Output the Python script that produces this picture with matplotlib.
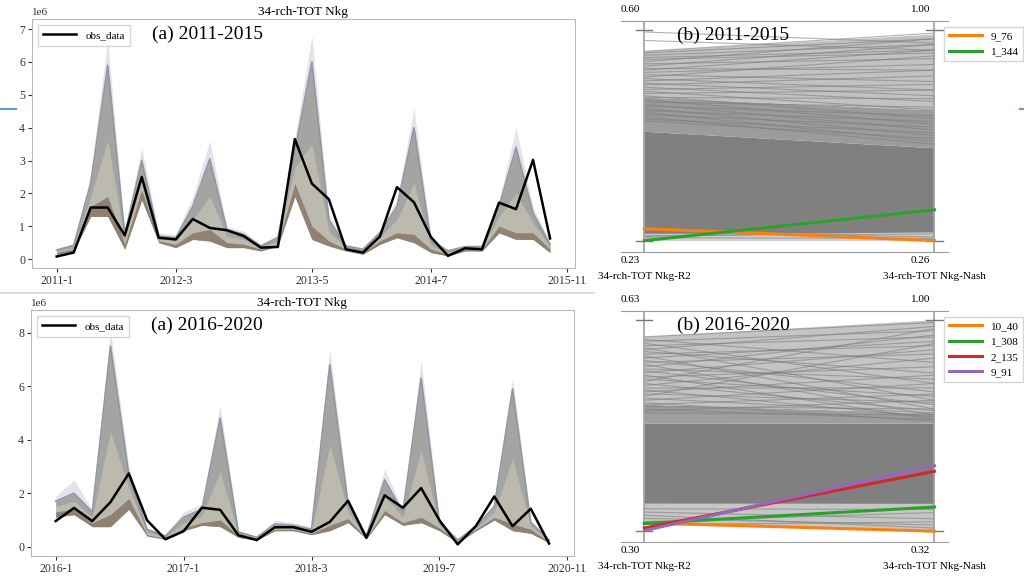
import numpy as np
import matplotlib.pyplot as plt
from matplotlib.lines import Line2D

plt.rcParams['font.family'] = ['Liberation Serif', 'DejaVu Serif']

SCALE = 1e6

# ---- 2011-2015: observed load and ensemble envelope (units of 1e6 kg) ----
obs_1 = [0.08, 0.20, 1.57, 1.57, 0.72, 2.50, 0.65, 0.60, 1.22, 0.95,
         0.88, 0.70, 0.35, 0.37, 3.65, 2.30, 1.82, 0.30, 0.20, 0.69,
         2.19, 1.73, 0.67, 0.10, 0.33, 0.30, 1.72, 1.52, 3.02, 0.63]
ens_min_1 = [0.15, 0.25, 1.30, 1.30, 0.30, 1.80, 0.50, 0.35, 0.60, 0.55,
             0.35, 0.35, 0.25, 0.40, 1.90, 0.60, 0.40, 0.25, 0.15, 0.45,
             0.65, 0.50, 0.20, 0.10, 0.25, 0.25, 0.80, 0.60, 0.60, 0.20]
ens_core_1 = [0.20, 0.30, 1.60, 1.90, 0.45, 2.10, 0.55, 0.45, 0.80, 0.90,
              0.50, 0.45, 0.30, 0.45, 2.30, 1.00, 0.55, 0.30, 0.20, 0.55,
              0.80, 0.75, 0.30, 0.15, 0.30, 0.30, 1.00, 0.80, 0.80, 0.30]
ens_mid_1 = [0.24, 0.36, 1.90, 3.60, 0.60, 2.50, 0.62, 0.55, 1.20, 1.90,
             0.70, 0.60, 0.35, 0.55, 2.80, 3.50, 0.85, 0.35, 0.25, 0.68,
             1.20, 2.30, 0.42, 0.20, 0.34, 0.34, 1.30, 2.00, 1.10, 0.38]
ens_max_1 = [0.28, 0.42, 2.30, 5.90, 0.75, 3.00, 0.70, 0.65, 1.60, 3.05,
             0.90, 0.75, 0.40, 0.65, 3.30, 6.00, 1.20, 0.40, 0.30, 0.80,
             1.60, 4.00, 0.55, 0.25, 0.38, 0.38, 1.60, 3.40, 1.40, 0.45]
ens_tip_1 = [0.30, 0.45, 2.60, 6.70, 0.85, 3.40, 0.80, 0.75, 1.90, 3.60,
             1.00, 0.85, 0.45, 0.75, 3.70, 6.80, 1.40, 0.45, 0.35, 0.90,
             1.80, 4.60, 0.65, 0.30, 0.42, 0.42, 1.80, 4.00, 1.60, 0.50]
tick_pos_1 = [0, 7, 15, 22, 30]
tick_lab_1 = ['2011-1', '2012-3', '2013-5', '2014-7', '2015-11']

# ---- 2016-2020 ----
obs_2 = [0.96, 1.45, 0.96, 1.67, 2.74, 0.99, 0.28, 0.58, 1.46, 1.38,
         0.43, 0.25, 0.73, 0.73, 0.56, 0.93, 1.72, 0.33, 1.92, 1.46,
         2.19, 0.99, 0.09, 0.78, 1.88, 0.77, 1.42, 0.12]
ens_min_2 = [1.10, 1.20, 0.75, 0.75, 1.40, 0.40, 0.28, 0.60, 0.80, 0.75,
             0.35, 0.25, 0.60, 0.60, 0.45, 0.60, 0.90, 0.30, 1.20, 0.80,
             0.90, 0.60, 0.15, 0.60, 1.00, 0.60, 0.50, 0.15]
ens_core_2 = [1.30, 1.40, 0.90, 1.20, 1.80, 0.45, 0.30, 0.70, 0.90, 1.00,
              0.40, 0.28, 0.65, 0.65, 0.50, 0.80, 1.05, 0.32, 1.35, 0.90,
              1.10, 0.70, 0.18, 0.65, 1.10, 0.85, 0.65, 0.18]
ens_mid_2 = [1.50, 1.70, 1.10, 4.30, 2.20, 0.55, 0.35, 0.90, 1.15, 2.80,
             0.48, 0.32, 0.75, 0.72, 0.58, 3.80, 1.30, 0.36, 1.90, 1.10,
             3.60, 0.80, 0.22, 0.70, 1.30, 3.30, 0.78, 0.22]
ens_max_2 = [1.70, 2.00, 1.30, 7.50, 2.70, 0.65, 0.40, 1.10, 1.40, 4.80,
             0.55, 0.35, 0.85, 0.80, 0.65, 6.80, 1.60, 0.40, 2.50, 1.30,
             6.30, 0.90, 0.25, 0.75, 1.50, 5.90, 0.90, 0.25]
ens_tip_2 = [1.90, 2.50, 1.40, 8.10, 3.00, 0.70, 0.45, 1.30, 1.60, 5.30,
             0.60, 0.40, 1.00, 0.90, 0.75, 7.40, 1.80, 0.45, 2.90, 1.40,
             7.00, 1.00, 0.30, 0.85, 1.60, 6.30, 1.00, 0.30]
tick_pos_2 = [0, 7, 14, 21, 28]
tick_lab_2 = ['2016-1', '2017-1', '2018-3', '2019-7', '2020-11']

# ---- parallel coordinates: R2 (left axis) vs Nash (right axis) ----
r2_range_1 = (0.23, 0.60)
nash_range_1 = (0.26, 1.00)
pick_names_1 = ['9_76', '1_344']
pick_r2_1 = [0.252, 0.231]
pick_nash_1 = [0.262, 0.370]
pick_colors_1 = ['#ff7f0e', '#2ca02c']
# (r2_lo, r2_hi, nash_lo, nash_hi, shade)
bands_1 = [(0.230, 0.243, 0.260, 0.290, '#cfcfcf'),
           (0.243, 0.422, 0.290, 0.586, '#808080'),
           (0.422, 0.482, 0.586, 0.719, '#9c9c9c'),
           (0.482, 0.563, 0.719, 0.985, '#c2c2c2')]
runs_r2_1 = [0.597, 0.582, 0.563, 0.560, 0.556, 0.552, 0.549, 0.545, 0.541,
             0.537, 0.533, 0.530, 0.526, 0.522, 0.518, 0.515, 0.511, 0.507,
             0.504, 0.500, 0.496, 0.493, 0.489, 0.485, 0.482, 0.478, 0.474,
             0.470, 0.467, 0.463, 0.459, 0.456, 0.452, 0.448, 0.444, 0.441,
             0.244, 0.240, 0.246, 0.236, 0.250, 0.238]
runs_nash_1 = [0.955, 0.930, 0.990, 0.970, 0.950, 0.930, 0.920, 0.970, 0.900,
               0.950, 0.860, 0.930, 0.880, 0.820, 0.910, 0.790, 0.860, 0.770,
               0.840, 0.750, 0.810, 0.720, 0.790, 0.690, 0.760, 0.670, 0.730,
               0.650, 0.700, 0.630, 0.680, 0.610, 0.660, 0.600, 0.640, 0.620,
               0.300, 0.285, 0.275, 0.270, 0.310, 0.295]

r2_range_2 = (0.30, 0.63)
nash_range_2 = (0.32, 1.00)
pick_names_2 = ['10_40', '1_308', '2_135', '9_91']
pick_r2_2 = [0.313, 0.312, 0.305, 0.301]
pick_nash_2 = [0.320, 0.398, 0.513, 0.531]
pick_colors_2 = ['#ff7f0e', '#2ca02c', '#d62728', '#9467bd']
bands_2 = [(0.310, 0.343, 0.320, 0.408, '#c6c6c6'),
           (0.343, 0.468, 0.408, 0.667, '#808080'),
           (0.468, 0.498, 0.667, 0.700, '#9e9e9e'),
           (0.498, 0.604, 0.700, 1.000, '#c4c4c4')]
runs_r2_2 = [0.604, 0.600, 0.597, 0.594, 0.590, 0.587, 0.584, 0.581, 0.577,
             0.574, 0.571, 0.567, 0.564, 0.561, 0.557, 0.554, 0.551, 0.548,
             0.544, 0.541, 0.538, 0.534, 0.531, 0.528, 0.524, 0.521, 0.518,
             0.515, 0.511, 0.508, 0.505, 0.501, 0.498, 0.495, 0.491, 0.488,
             0.485, 0.330, 0.320, 0.315, 0.325, 0.335, 0.310]
runs_nash_2 = [0.993, 0.864, 0.966, 0.796, 0.946, 0.742, 0.980, 0.830, 0.918,
               0.714, 0.932, 0.769, 0.891, 0.694, 0.952, 0.810, 0.728, 0.905,
               0.680, 0.850, 0.755, 0.973, 0.708, 0.878, 0.782, 0.687, 0.823,
               0.735, 0.925, 0.701, 0.796, 0.674, 0.762, 0.714, 0.680, 0.742,
               0.694, 0.360, 0.340, 0.380, 0.330, 0.390, 0.350]


def draw_series(ax, obs, mn, core, mid, mx, tip, tpos, tlab, ylim, yticks, tag):
    x = np.arange(len(obs))
    s = SCALE
    mn, core, mid, mx, tip, obs = (np.array(a) * s for a in (mn, core, mid, mx, tip, obs))
    ax.fill_between(x, mx, tip, color='#c4c2d8', alpha=0.45, lw=0)
    ax.fill_between(x, mn, mx, color='#a4a5a3', lw=0)
    ax.fill_between(x, core, mid, color='#c9c4b4', alpha=0.65, lw=0)
    ax.fill_between(x, mn, core, color='#8d7b6d', alpha=0.85, lw=0)
    ax.plot(x, mx, color='#8f98a2', lw=1.2)
    ax.plot(x, obs, color='black', lw=1.8, label='obs_data')
    ax.set_xlim(-0.05 * (len(obs) - 1), 1.05 * (len(obs) - 1))
    ax.set_ylim(ylim[0] * s, ylim[1] * s)
    ax.set_yticks(np.array(yticks) * s)
    ax.set_xticks(tpos)
    ax.set_xticklabels(tlab)
    ax.tick_params(labelsize=8.5, length=3, pad=2, colors='#333333')
    ax.yaxis.get_offset_text().set_fontsize(8)
    for sp in ax.spines.values():
        sp.set_color('#b8b8b8')
    ax.set_title('34-rch-TOT Nkg', fontsize=9.5, pad=3)
    ax.legend(loc='upper left', fontsize=8, handlelength=3, edgecolor='#cccccc',
              fancybox=False, borderpad=0.5)
    ax.text(0.221, 0.94, tag, transform=ax.transAxes, fontsize=14,
            ha='left', va='center')


def draw_parallel(ax, r2_rng, nash_rng, bands, runs_r2, runs_nash,
                  names, p_r2, p_nash, colors, tag):
    def nr(v):
        return (np.asarray(v) - r2_rng[0]) / (r2_rng[1] - r2_rng[0])

    def nn(v):
        return (np.asarray(v) - nash_rng[0]) / (nash_rng[1] - nash_rng[0])

    for l_lo, l_hi, r_lo, r_hi, shade in bands:
        ax.fill([0, 1, 1, 0], [nr(l_lo), nn(r_lo), nn(r_hi), nr(l_hi)],
                color=shade, lw=0, zorder=1)
    for a, b in zip(runs_r2, runs_nash):
        ax.plot([0, 1], [nr(a), nn(b)], color='#7e7e7e', lw=0.8, alpha=0.6, zorder=2)
    handles = []
    for nm, a, b, c in zip(names, p_r2, p_nash, colors):
        ax.plot([0, 1], [nr(a), nn(b)], color=c, lw=2.2, zorder=4)
        handles.append(Line2D([], [], color=c, lw=2.2, label=nm))

    for xv in (0, 1):
        ax.axvline(xv, color='#a0a0a0', lw=1.2, zorder=3)
        for yv in (0, 1):
            ax.plot([xv - 0.028, xv + 0.028], [yv, yv], color='#777777', lw=1, zorder=3)
    ax.set_xlim(-0.0814, 1.047)
    ax.set_ylim(-0.05, 1.045)
    ax.set_xticks([])
    ax.set_yticks([])
    ax.spines['left'].set_visible(False)
    ax.spines['right'].set_visible(False)
    ax.spines['top'].set_color('#9a9a9a')
    ax.spines['bottom'].set_color('#9a9a9a')

    # range labels above and below each axis, then the metric names
    for xv, rng in ((0, r2_rng), (1, nash_rng)):
        ax.annotate(f'{rng[1]:.2f}', (xv, 1), xycoords=('data', 'axes fraction'),
                    xytext=(-3, 8), textcoords='offset points', ha='right',
                    va='center', fontsize=8)
        ax.annotate(f'{rng[0]:.2f}', (xv, 0), xycoords=('data', 'axes fraction'),
                    xytext=(-3, -6), textcoords='offset points', ha='right',
                    va='center', fontsize=8)
    ax.annotate('34-rch-TOT Nkg-R2', (0, 0), xycoords=('data', 'axes fraction'),
                xytext=(0, -18), textcoords='offset points', ha='center',
                va='center', fontsize=8)
    ax.annotate('34-rch-TOT Nkg-Nash', (1, 0), xycoords=('data', 'axes fraction'),
                xytext=(0, -18), textcoords='offset points', ha='center',
                va='center', fontsize=8)
    ax.text(0.172, 0.935, tag, transform=ax.transAxes, fontsize=14,
            ha='left', va='center', zorder=5)
    ax.legend(handles=handles, loc='upper left', bbox_to_anchor=(0.988, 0.973),
              borderaxespad=0, fontsize=8, handlelength=3, edgecolor='#cccccc',
              fancybox=False)


fig = plt.figure(figsize=(10.24, 5.76), dpi=100)

ax1 = fig.add_axes([0.03125, 0.5347, 0.530, 0.432])
draw_series(ax1, obs_1, ens_min_1, ens_core_1, ens_mid_1, ens_max_1, ens_tip_1,
            tick_pos_1, tick_lab_1, (-0.27, 7.3), range(8), '(a) 2011-2015')

ax2 = fig.add_axes([0.0303, 0.0345, 0.530, 0.427])
draw_series(ax2, obs_2, ens_min_2, ens_core_2, ens_mid_2, ens_max_2, ens_tip_2,
            tick_pos_2, tick_lab_2, (-0.35, 8.84), [0, 2, 4, 6, 8], '(a) 2016-2020')

ax3 = fig.add_axes([0.6062, 0.563, 0.3196, 0.401])
draw_parallel(ax3, r2_range_1, nash_range_1, bands_1, runs_r2_1, runs_nash_1,
              pick_names_1, pick_r2_1, pick_nash_1, pick_colors_1, '(b) 2011-2015')

ax4 = fig.add_axes([0.6062, 0.0595, 0.3196, 0.401])
draw_parallel(ax4, r2_range_2, nash_range_2, bands_2, runs_r2_2, runs_nash_2,
              pick_names_2, pick_r2_2, pick_nash_2, pick_colors_2, '(b) 2016-2020')

# slide separators
fig.add_artist(Line2D([0, 0.58], [0.491, 0.491], color='#dcdcdc', lw=1.5))
fig.add_artist(Line2D([0, 0.016], [0.811, 0.811], color='#5b9bd5', lw=1.5))
fig.add_artist(Line2D([0.996, 1.0], [0.811, 0.811], color='#5b9bd5', lw=1.5))

fig.savefig('out.png', dpi=100)
